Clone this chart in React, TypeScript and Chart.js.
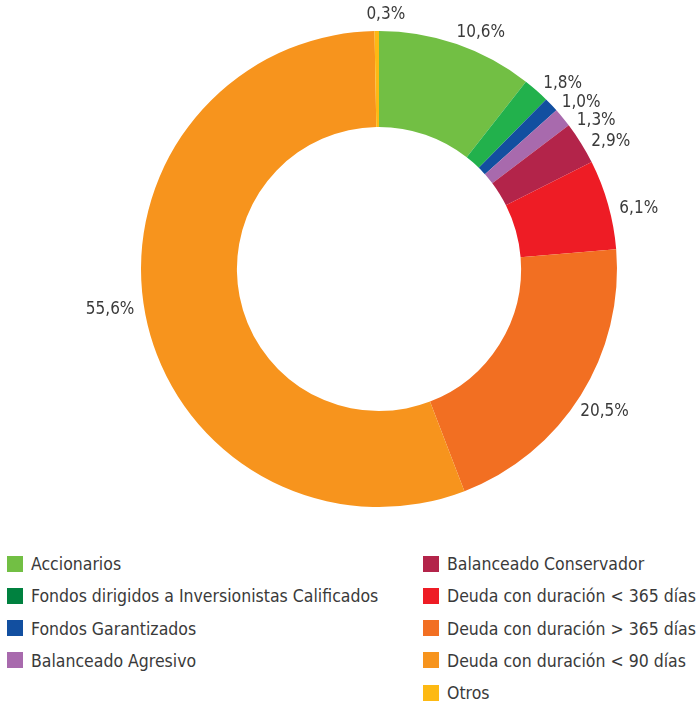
import React, { useEffect, useRef } from "react";
import { Chart, registerables } from "chart.js";

Chart.register(...registerables);

const categories = [
  "Accionarios",
  "Fondos dirigidos a Inversionistas Calificados",
  "Fondos Garantizados",
  "Balanceado Agresivo",
  "Balanceado Conservador",
  "Deuda con duración < 365 días",
  "Deuda con duración > 365 días",
  "Deuda con duración < 90 días",
  "Otros",
];
const values = [10.6, 1.8, 1.0, 1.3, 2.9, 6.1, 20.5, 55.6, 0.3];
const sliceColors = [
  "#72bf44", "#22b14c", "#124fa0", "#a86aad", "#b3244a",
  "#ee1c25", "#f26f22", "#f7941d", "#fdb913",
];
const legendColors = [
  "#72bf44", "#00813f", "#124fa0", "#a86aad", "#b3244a",
  "#ee1c25", "#f26f22", "#f7941d", "#fdb913",
];
const legendLeft = [0, 1, 2, 3];
const legendRight = [4, 5, 6, 7, 8];

const fmt = (v: number) => v.toFixed(1).replace(".", ",") + "%";

const LABEL_ROTATE = (2 * Math.PI) / 180;
const MIN_GAP = 18.5;

const labelPlugin = {
  id: "outerLabels",
  afterDatasetsDraw(chart: any) {
    const ctx = chart.ctx;
    const meta = chart.getDatasetMeta(0);
    ctx.save();
    ctx.font = '17px "DejaVu Sans Condensed", "DejaVu Sans", sans-serif';
    ctx.fillStyle = "#3a3a3a";
    ctx.textAlign = "center";
    ctx.textBaseline = "middle";
    const h = 14;
    const items: any[] = meta.data.map((arc: any, i: number) => {
      const p = arc.getProps(["x", "y", "startAngle", "endAngle", "outerRadius"], true);
      const a = (p.startAngle + p.endAngle) / 2 + LABEL_ROTATE;
      const txt = fmt(values[i]);
      const w = ctx.measureText(txt).width;
      const r = p.outerRadius + 10;
      const ax = p.x + r * Math.cos(a);
      const ay = p.y + r * Math.sin(a);
      return {
        txt, a, w, r, px: p.x, py: p.y,
        cx: ax + (w / 2) * Math.cos(a),
        cy: ay + (h / 2) * Math.sin(a),
      };
    });
    const right = items.filter((it) => Math.cos(it.a) > 0).sort((u, v) => u.cy - v.cy);
    for (let k = 1; k < right.length; k++) {
      const prev = right[k - 1];
      const it = right[k];
      if (it.cy < prev.cy + MIN_GAP) {
        it.cy = prev.cy + MIN_GAP;
        const ay = it.cy - (h / 2) * Math.sin(it.a);
        const dy = ay - it.py;
        const ax = it.px + Math.sqrt(Math.max(0, it.r * it.r - dy * dy));
        it.cx = ax + (it.w / 2) * Math.cos(it.a);
      }
    }
    items.forEach((it) => ctx.fillText(it.txt, it.cx, it.cy));
    ctx.restore();
  },
};

export default function App() {
  const ref = useRef<HTMLCanvasElement>(null);
  useEffect(() => {
    if (!ref.current) return;
    const chart = new Chart(ref.current, {
      type: "doughnut",
      data: {
        labels: categories,
        datasets: [
          {
            data: values,
            backgroundColor: sliceColors,
            borderWidth: 0,
          },
        ],
      },
      options: {
        responsive: false,
        animation: false,
        cutout: "59.7%",
        layout: { padding: { left: 141, right: 80, top: 31, bottom: 33 } },
        plugins: {
          legend: { display: false },
          tooltip: { enabled: false },
        },
      },
      plugins: [labelPlugin],
    });
    return () => chart.destroy();
  }, []);

  const rowTop = (k: number) => 555.5 + k * 32.3;
  const item = (idx: number, k: number, left: number) => (
    <div
      key={idx}
      style={{
        position: "absolute",
        left,
        top: rowTop(k),
        height: 16,
        display: "flex",
        alignItems: "center",
        whiteSpace: "nowrap",
      }}
    >
      <span
        style={{
          display: "inline-block",
          width: 16,
          height: 16,
          background: legendColors[idx],
          marginRight: 8,
          flex: "none",
        }}
      />
      <span
        style={{
          fontFamily: '"DejaVu Sans Condensed", "DejaVu Sans", sans-serif',
          fontSize: 17.5,
          color: "#3a3a3a",
          lineHeight: "16px",
          position: "relative",
          top: 0.5,
        }}
      >
        {categories[idx]}
      </span>
    </div>
  );

  return (
    <div
      style={{
        position: "absolute",
        left: 0,
        top: 0,
        width: 697,
        height: 704,
        background: "#ffffff",
        overflow: "hidden",
      }}
    >
      <canvas ref={ref} width={697} height={540} style={{ position: "absolute", left: 0, top: 0 }} />
      {legendLeft.map((idx, k) => item(idx, k, 7))}
      {legendRight.map((idx, k) => item(idx, k, 423))}
    </div>
  );
}
